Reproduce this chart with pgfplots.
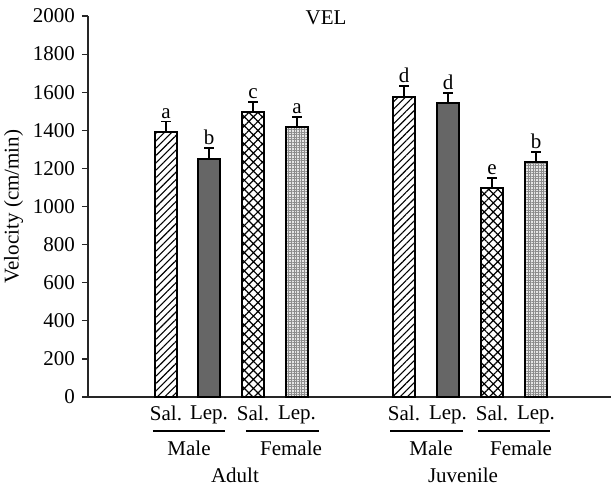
\documentclass[border=0pt]{standalone}
\usepackage{fontspec}
\setmainfont{Liberation Serif}
\usepackage{pgfplots}
\pgfplotsset{compat=1.18}
\usetikzlibrary{patterns.meta}
\begin{document}
\begin{tikzpicture}[font=\fontsize{10.5}{12}\selectfont]
\begin{axis}[
  at={(0,0)}, anchor=south west,
  scale only axis, width=261.5pt, height=190.5pt,
  xmin=88, xmax=611, ymin=0, ymax=2000,
  axis x line=bottom, axis y line=left,
  axis line style={-, line width=0.7pt, black!85},
  ytick={0,200,...,2000},
  tick align=outside, major tick length=3pt,
  ytick style={line width=0.6pt, black!85},
  xtick={166,209,253,297,404,448,492,536},
  xticklabels={Sal.,Lep.,Sal.,Lep.,Sal.,Lep.,Sal.,Lep.},
  xtick style={draw=none},
  xticklabel style={yshift=2pt},
  /pgf/number format/assume math mode=true,
  /pgf/number format/1000 sep={},
  ylabel={Velocity (cm/min)},
  ylabel style={yshift=-2pt},
  clip=false,
  error bars/error bar style={line width=0.9pt, black},
  error bars/error mark options={rotate=90, line width=0.9pt, black, mark size=2.3pt},
]
% Male Saline
\addplot[ybar, bar width=11pt, bar shift=0pt, draw=black, line width=1pt, fill=white,
  postaction={pattern={Lines[angle=45, distance=2.6pt, line width=0.55pt]}},
  error bars/.cd, y dir=plus, y explicit]
  coordinates {(166,1393) +- (0,53) (404,1576) +- (0,57)};
% Male Leptin
\addplot[ybar, bar width=11pt, bar shift=0pt, draw=black, line width=1pt, fill=black!60,
  error bars/.cd, y dir=plus, y explicit]
  coordinates {(209,1251) +- (0,57) (448,1541) +- (0,55)};
% Female Saline
\addplot[ybar, bar width=11pt, bar shift=0pt, draw=black, line width=1pt, fill=white,
  postaction={pattern={Hatch[angle=45, distance=3.2pt, line width=0.6pt]}},
  error bars/.cd, y dir=plus, y explicit]
  coordinates {(253,1498) +- (0,52) (492,1095) +- (0,53)};
% Female Leptin
\addplot[ybar, bar width=11pt, bar shift=0pt, draw=black, line width=1pt, fill=black!10,
  postaction={pattern={Hatch[angle=0, distance=1.3pt, line width=0.3pt]}, pattern color=black!45},
  error bars/.cd, y dir=plus, y explicit]
  coordinates {(297,1415) +- (0,53) (536,1232) +- (0,53)};
% significance letters
\addplot[only marks, mark=none, nodes near coords, point meta=explicit symbolic,
  nodes near coords style={anchor=south, inner sep=1.5pt, font=\fontsize{10.5}{12}\selectfont}]
  coordinates {(166,1445)[a] (209,1308)[b] (253,1550)[c] (297,1468)[a]
               (404,1634)[d] (448,1596)[d] (492,1148)[e] (536,1285)[b]};
\node at (axis cs:326,1990) {VEL};
\draw[line width=0.6pt] (axis cs:153,-178) -- (axis cs:225,-178);
\draw[line width=0.6pt] (axis cs:246,-178) -- (axis cs:319,-178);
\draw[line width=0.6pt] (axis cs:390,-178) -- (axis cs:463,-178);
\draw[line width=0.6pt] (axis cs:478,-178) -- (axis cs:550,-178);
\node at (axis cs:189,-268) {Male};
\node at (axis cs:291,-268) {Female};
\node at (axis cs:431,-268) {Male};
\node at (axis cs:521,-268) {Female};
\node at (axis cs:235,-410) {Adult};
\node at (axis cs:463,-410) {Juvenile};
\end{axis}
\pgfresetboundingbox
\path[use as bounding box] (-44pt,-45.5pt) rectangle (261.5pt,198.5pt);
\end{tikzpicture}
\end{document}
